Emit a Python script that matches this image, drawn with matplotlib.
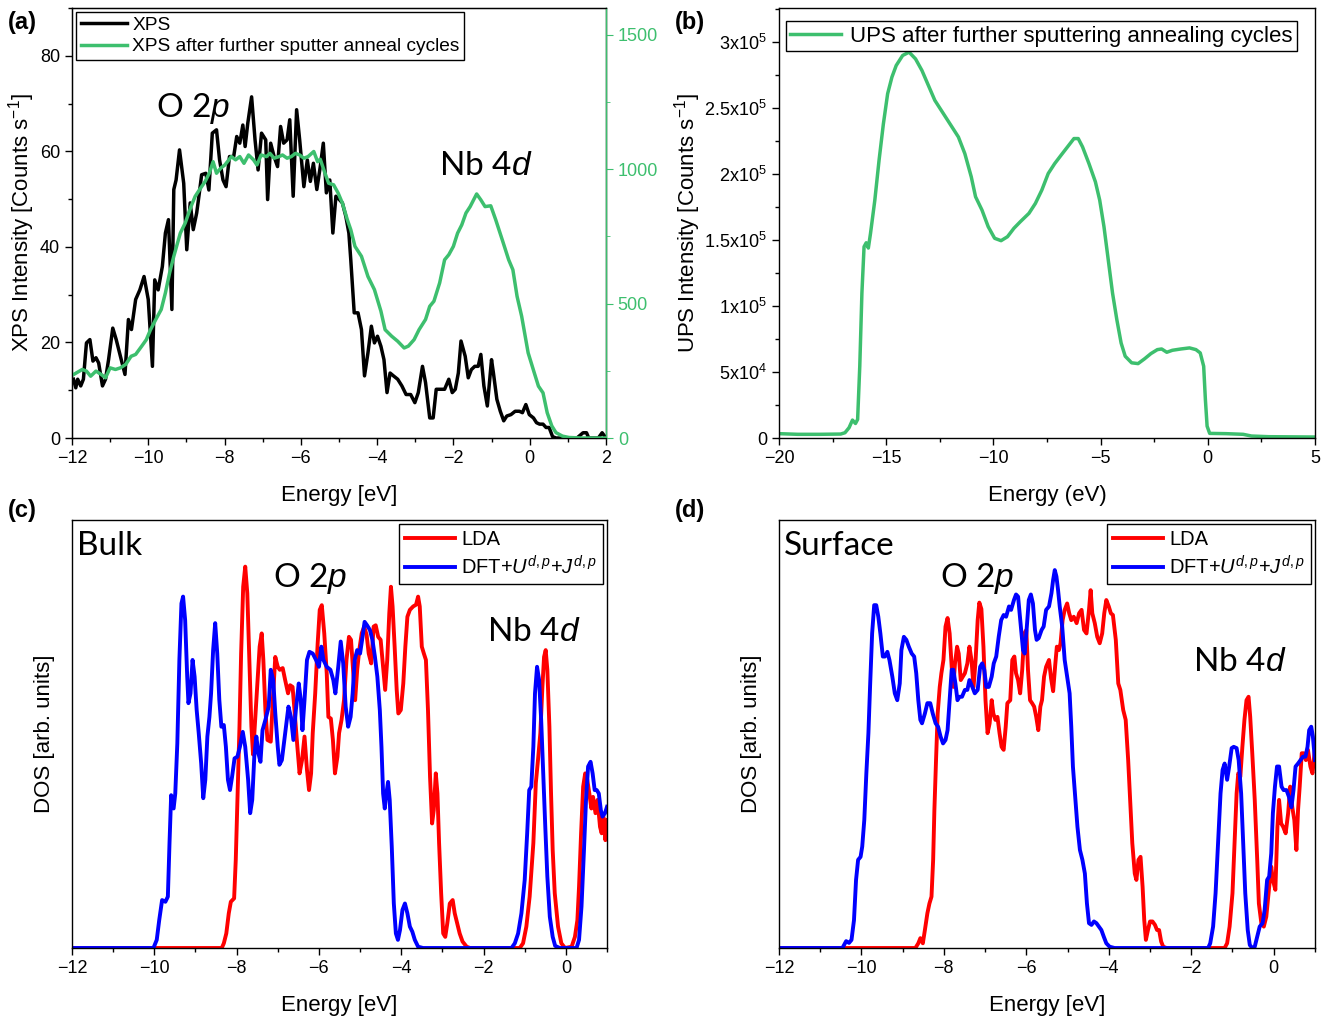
import matplotlib
matplotlib.use("Agg")
import matplotlib.pyplot as plt
from matplotlib.ticker import MultipleLocator

plt.rcParams['font.family'] = ['Liberation Sans', 'DejaVu Sans']
plt.rcParams['mathtext.fontset'] = 'custom'
plt.rcParams['mathtext.rm'] = 'Liberation Sans'
plt.rcParams['mathtext.it'] = 'Liberation Sans:italic'

GREEN = '#3dbf6e'

# ---- (a) XPS ----
xps_e = [-11.96, -11.9, -11.85, -11.77, -11.7, -11.62, -11.53, -11.45, -11.37, -11.3, -11.2, -11.12,
         -11.04, -10.93, -10.84, -10.73, -10.61, -10.52, -10.44, -10.33, -10.22, -10.11, -10.0, -9.89,
         -9.83, -9.74, -9.63, -9.55, -9.47, -9.38, -9.33, -9.27, -9.18, -9.07, -8.99, -8.9, -8.82, -8.73,
         -8.66, -8.6, -8.49, -8.41, -8.32, -8.21, -8.13, -8.04, -7.96, -7.87, -7.76, -7.68, -7.6, -7.52,
         -7.46, -7.39, -7.29, -7.2, -7.12, -7.03, -6.92, -6.87, -6.79, -6.7, -6.61, -6.53, -6.45, -6.36,
         -6.29, -6.2, -6.11, -6.03, -5.92, -5.83, -5.75, -5.67, -5.58, -5.49, -5.41, -5.33, -5.24, -5.16,
         -5.08, -4.99, -4.91, -4.82, -4.74, -4.69, -4.6, -4.5, -4.41, -4.33, -4.24, -4.15, -4.07, -3.99,
         -3.9, -3.82, -3.74, -3.66, -3.57, -3.46, -3.35, -3.24, -3.12, -3.01, -2.92, -2.81, -2.73, -2.62,
         -2.53, -2.45, -2.34, -2.23, -2.12, -2.03, -1.95, -1.87, -1.8, -1.69, -1.61, -1.53, -1.44, -1.35,
         -1.28, -1.2, -1.11, -1.0, -0.95, -0.86, -0.77, -0.68, -0.6, -0.49, -0.38, -0.27, -0.19, -0.1,
         -0.01, 0.1, 0.18, 0.26, 0.35, 0.43, 0.51, 0.6, 0.69, 0.9, 1.24, 1.4, 1.49, 1.55, 1.8, 1.9, 2.0]
xps_i = [12.3, 10.5, 12.3, 10.9, 12.3, 19.9, 20.6, 16.1, 16.8, 15.7, 10.9, 12.3,
         16.4, 23.0, 20.6, 17.1, 13.3, 24.8, 22.7, 29.0, 31.0, 33.8, 29.0, 15.0,
         33.1, 31.0, 35.9, 42.9, 45.7, 26.9, 52.0, 54.0, 60.3, 53.3, 39.4, 49.2, 43.6, 47.1,
         51.3, 55.1, 55.4, 51.9, 63.8, 64.5, 58.2, 54.0, 52.6, 58.9, 58.9, 63.1, 61.7, 65.5,
         61.0, 65.9, 71.4, 62.4, 56.1, 63.8, 62.4, 49.9, 61.7, 58.9, 56.8, 65.2, 61.7, 62.4,
         66.6, 50.6, 68.7, 62.4, 52.6, 58.2, 53.7, 57.5, 52.0, 56.8, 61.7, 51.3, 54.0, 42.9,
         50.6, 49.9, 49.2, 46.4, 42.9, 37.3, 26.2, 26.2, 22.7, 13.0, 17.8, 23.4, 19.9, 21.3,
         19.2, 16.4, 9.5, 13.6, 13.0, 12.3, 10.9, 9.1, 9.1, 7.4, 9.5, 15.0, 11.6, 4.2,
         4.2, 10.2, 10.2, 10.2, 12.3, 9.5, 10.2, 13.6, 20.3, 17.1, 12.6, 14.3, 15.0, 15.0,
         17.5, 10.9, 6.7, 16.4, 13.6, 8.1, 5.6, 3.6, 4.6, 4.9, 5.6, 5.6, 5.3, 7.0,
         4.9, 4.2, 3.2, 2.9, 2.9, 2.2, 2.2, 0.3, 0.0, 0.0, 0.0, 1.1, 1.1, 0.0, 0.0, 1.1, 0.0]

xps2_e = [-11.96, -11.73, -11.62, -11.51, -11.37, -11.23, -11.12, -11.0, -10.86, -10.73, -10.59, -10.45,
          -10.33, -10.17, -10.05, -9.94, -9.78, -9.66, -9.55, -9.44, -9.33, -9.16, -9.03, -8.88, -8.77,
          -8.66, -8.51, -8.4, -8.3, -8.21, -8.1, -7.99, -7.82, -7.71, -7.6, -7.49, -7.37, -7.24, -7.15,
          -7.04, -6.9, -6.81, -6.7, -6.57, -6.48, -6.36, -6.25, -6.14, -6.03, -5.92, -5.81, -5.66, -5.56,
          -5.49, -5.38, -5.27, -5.14, -5.02, -4.91, -4.78, -4.69, -4.58, -4.41, -4.24, -4.07, -3.9, -3.79,
          -3.62, -3.46, -3.29, -3.18, -3.03, -2.9, -2.73, -2.62, -2.51, -2.36, -2.23, -2.12, -2.0, -1.89,
          -1.78, -1.67, -1.56, -1.47, -1.39, -1.28, -1.17, -1.02, -0.89, -0.72, -0.55, -0.44, -0.33, -0.21,
          -0.04, 0.12, 0.23, 0.35, 0.46, 0.58, 0.69, 0.86, 1.03, 1.36, 2.0]
xps2_i = [236, 255, 249, 230, 249, 236, 224, 261, 255, 261, 274, 304,
          311, 342, 366, 403, 447, 478, 540, 614, 676, 762, 800, 861, 899,
          923, 954, 985, 1028, 985, 1004, 1016, 1047, 1035, 1047, 1022, 1053, 1035, 1016,
          1053, 1047, 1059, 1041, 1047, 1053, 1041, 1047, 1059, 1053, 1041, 1047, 1066, 1028,
          1037, 991, 948, 942, 911, 874, 812, 775, 713, 676, 601, 552, 472, 403,
          379, 360, 335, 342, 366, 403, 441, 490, 509, 577, 663, 682, 713, 762,
          793, 837, 861, 886, 908, 886, 861, 864, 812, 738, 663, 626, 527, 453,
          317, 243, 193, 168, 94, 45, 20, 7, 2, 0, 0]

# ---- (b) UPS ----
ups_e = [-20.0, -19.12, -18.12, -17.12, -16.92, -16.73, -16.57, -16.43, -16.33, -16.23, -16.13, -16.03,
         -15.93, -15.83, -15.73, -15.53, -15.33, -15.13, -14.93, -14.73, -14.53, -14.23, -13.93, -13.63,
         -13.33, -13.03, -12.73, -12.33, -11.93, -11.63, -11.33, -11.03, -10.83, -10.53, -10.24, -9.94,
         -9.64, -9.34, -9.04, -8.74, -8.34, -8.04, -7.74, -7.44, -7.14, -6.84, -6.54, -6.24, -6.04,
         -5.84, -5.54, -5.24, -5.04, -4.84, -4.64, -4.44, -4.24, -4.04, -3.85, -3.55, -3.25, -2.95,
         -2.65, -2.35, -2.15, -1.91, -1.65, -1.25, -0.85, -0.55, -0.35, -0.19, -0.11, -0.03, 0.09,
         0.85, 1.65, 2.04, 2.84, 5.0]
ups_i = [3300, 2800, 2800, 3000, 4000, 7800, 13600, 11000, 14100, 54400, 110000, 145000,
         148000, 144000, 155000, 180000, 210600, 238000, 261000, 273600, 282400, 290000, 292500, 287400,
         278600, 267300, 256000, 245900, 235800, 228200, 215600, 198000, 182900, 172800, 160200, 151400,
         149600, 152600, 159000, 164000, 170300, 177800, 187900, 200500, 208000, 214400, 220700, 227000, 227000,
         220700, 208000, 194200, 180400, 160200, 135000, 109800, 89700, 72000, 62000, 57000, 56400, 60000,
         64000, 67000, 67500, 65000, 66500, 67500, 68300, 67000, 64500, 54400, 29200, 9000, 3500,
         3300, 2800, 1500, 1000, 750]
ups_ticks = [0, 50000, 100000, 150000, 200000, 250000, 300000]
ups_ticklabels = ['0', r'$5\mathrm{x}10^{4}$', r'$1\mathrm{x}10^{5}$', r'$1.5\mathrm{x}10^{5}$',
                  r'$2\mathrm{x}10^{5}$', r'$2.5\mathrm{x}10^{5}$', r'$3\mathrm{x}10^{5}$']

# ---- (c) Bulk DOS ----
bulk_blue_e = [-12.0, -10.02, -9.94, -9.88, -9.81, -9.73, -9.67, -9.63, -9.59, -9.53, -9.49, -9.44, -9.39,
               -9.34, -9.3, -9.25, -9.2, -9.17, -9.12, -9.07, -9.02, -8.97, -8.92, -8.86, -8.81, -8.76,
               -8.71, -8.66, -8.62, -8.57, -8.52, -8.47, -8.42, -8.37, -8.31, -8.26, -8.21, -8.16, -8.11,
               -8.05, -7.98, -7.92, -7.85, -7.79, -7.72, -7.67, -7.62, -7.57, -7.52, -7.47, -7.42, -7.37,
               -7.3, -7.22, -7.17, -7.11, -7.06, -7.0, -6.96, -6.9, -6.82, -6.74, -6.68, -6.62, -6.56,
               -6.49, -6.44, -6.4, -6.35, -6.29, -6.23, -6.15, -6.07, -6.0, -5.94, -5.89, -5.81, -5.72,
               -5.65, -5.6, -5.53, -5.47, -5.41, -5.35, -5.29, -5.23, -5.18, -5.13, -5.07, -5.0, -4.94,
               -4.89, -4.83, -4.76, -4.7, -4.64, -4.58, -4.52, -4.48, -4.44, -4.4, -4.36, -4.32, -4.28,
               -4.23, -4.18, -4.13, -4.08, -4.03, -3.97, -3.91, -3.85, -3.79, -3.73, -3.67, -3.59, -3.47,
               -1.32, -1.24, -1.16, -1.08, -1.0, -0.94, -0.89, -0.84, -0.79, -0.75, -0.7, -0.65, -0.6,
               -0.55, -0.5, -0.45, -0.39, -0.32, -0.26, -0.15, 0.26, 0.32, 0.38, 0.44, 0.49, 0.54, 0.6,
               0.65, 0.7, 0.75, 0.8, 0.85, 0.89, 0.95, 1.0]
bulk_blue = [0, 0, 1.9, 6.5, 11.2, 10.8, 12.0, 24.5, 35.7, 32.6, 36.1, 47.8, 67.3,
             80.5, 82.1, 76.6, 63.4, 57.2, 59.5, 67.3, 63.4, 55.6, 50.2, 43.1, 35.0, 39.3,
             49.4, 54.0, 59.5, 69.6, 75.9, 68.8, 58.0, 51.7, 52.1, 47.0, 39.3, 36.9, 40.0,
             44.3, 44.7, 47.0, 50.5, 47.0, 39.3, 31.5, 34.6, 44.7, 49.4, 45.5, 43.5, 50.9,
             53.3, 56.4, 65.0, 62.6, 54.8, 47.0, 42.8, 43.9, 50.2, 56.4, 54.0, 48.6, 55.6,
             61.8, 57.9, 50.9, 57.9, 67.3, 69.2, 68.8, 67.3, 65.7, 70.4, 67.3, 65.7, 65.0,
             62.6, 59.5, 65.7, 71.6, 66.5, 56.4, 51.7, 54.0, 59.5, 67.3, 69.6, 68.8, 72.7,
             76.2, 75.4, 74.3, 72.0, 68.1, 63.4, 55.6, 47.0, 36.1, 32.6, 36.1, 38.8, 34.6,
             23.7, 10.4, 3.4, 1.9, 4.2, 8.9, 10.4, 8.1, 5.0, 3.8, 1.9, 0.3, 0,
             0, 1.1, 3.4, 8.1, 15.9, 26.8, 36.9, 37.7, 47.0, 59.5, 65.7, 62.6, 53.3,
             40.8, 28.3, 16.7, 7.3, 2.6, 0.5, 0, 0, 1.9, 9.7, 22.9, 34.6, 42.4, 43.5,
             40.8, 36.9, 36.9, 36.1, 32.2, 30.7, 31.5, 33.0]
bulk_red_e = [-12.0, -8.36, -8.31, -8.25, -8.19, -8.14, -8.06, -8.02, -7.98, -7.93, -7.89, -7.84, -7.79,
              -7.74, -7.69, -7.64, -7.6, -7.55, -7.49, -7.44, -7.39, -7.35, -7.3, -7.25, -7.17, -7.12,
              -7.06, -7.0, -6.95, -6.88, -6.82, -6.75, -6.7, -6.64, -6.6, -6.53, -6.47, -6.41, -6.35,
              -6.29, -6.24, -6.19, -6.15, -6.09, -6.03, -5.98, -5.93, -5.87, -5.81, -5.77, -5.71, -5.66,
              -5.61, -5.55, -5.51, -5.45, -5.39, -5.33, -5.27, -5.22, -5.17, -5.12, -5.07, -5.02, -4.96,
              -4.9, -4.84, -4.79, -4.73, -4.67, -4.62, -4.56, -4.5, -4.44, -4.39, -4.34, -4.29, -4.25,
              -4.21, -4.16, -4.11, -4.07, -4.01, -3.95, -3.9, -3.85, -3.79, -3.71, -3.64, -3.59, -3.55,
              -3.5, -3.45, -3.4, -3.35, -3.3, -3.25, -3.21, -3.16, -3.12, -3.08, -3.03, -2.98, -2.93,
              -2.88, -2.82, -2.75, -2.7, -2.64, -2.58, -2.51, -2.41, -2.33, -1.12, -1.04, -0.96, -0.88,
              -0.79, -0.73, -0.67, -0.62, -0.57, -0.53, -0.49, -0.45, -0.4, -0.36, -0.32, -0.27, -0.19,
              -0.11, -0.02, 0.14, 0.22, 0.28, 0.32, 0.37, 0.42, 0.47, 0.52, 0.57, 0.62, 0.66, 0.72,
              0.77, 0.83, 0.87, 0.91, 0.96, 1.01]
bulk_red = [0, 0, 1.1, 3.4, 8.1, 10.8, 11.6, 20.6, 34.6, 51.7, 68.8, 84.4, 89.1,
            82.9, 67.3, 51.7, 45.2, 53.3, 62.6, 70.4, 73.5, 67.3, 55.6, 48.6, 48.2, 57.9,
            68.0, 65.7, 65.0, 65.4, 62.6, 59.5, 61.4, 61.0, 56.4, 47.8, 40.8, 43.9, 49.4,
            41.6, 36.9, 40.8, 50.2, 59.5, 71.2, 79.0, 80.1, 73.5, 64.2, 54.0, 53.6, 48.6,
            40.8, 44.7, 50.2, 53.3, 57.9, 67.3, 72.7, 72.0, 65.0, 57.9, 65.0, 69.6, 73.5,
            75.1, 73.1, 68.8, 66.5, 75.1, 75.4, 72.7, 72.0, 65.7, 60.3, 67.3, 78.2, 84.4,
            79.8, 70.4, 60.3, 54.8, 55.6, 61.8, 70.4, 77.4, 79.0, 79.8, 80.2, 82.1, 79.8,
            70.4, 68.8, 67.3, 55.6, 40.0, 29.1, 32.2, 40.8, 36.1, 24.5, 12.8, 3.4, 2.6,
            5.8, 10.4, 11.2, 8.1, 5.8, 3.4, 1.5, 0.3, 0, 0, 1.1, 5.0, 12.0,
            24.5, 38.5, 44.7, 50.2, 61.0, 68.0, 69.6, 65.0, 51.7, 36.1, 22.9, 12.8, 5.0,
            1.1, 0, 0.3, 2.6, 6.5, 14.3, 26.8, 37.7, 40.8, 39.3, 36.1, 32.6, 35.3, 31.5,
            34.6, 28.3, 26.8, 30.7, 25.2, 29.9]

# ---- (d) Surface DOS ----
surf_blue_e = [-12.0, -10.46, -10.42, -10.37, -10.3, -10.24, -10.18, -10.13, -10.08, -10.02, -9.98, -9.93,
               -9.88, -9.83, -9.79, -9.74, -9.69, -9.64, -9.59, -9.54, -9.48, -9.43, -9.37, -9.32, -9.25,
               -9.19, -9.13, -9.07, -9.03, -8.97, -8.91, -8.85, -8.78, -8.72, -8.67, -8.62, -8.57, -8.53,
               -8.46, -8.4, -8.33, -8.27, -8.2, -8.14, -8.08, -8.02, -7.96, -7.91, -7.86, -7.81, -7.77,
               -7.72, -7.67, -7.62, -7.56, -7.49, -7.43, -7.38, -7.31, -7.25, -7.18, -7.12, -7.07, -7.02,
               -6.97, -6.91, -6.84, -6.79, -6.73, -6.67, -6.61, -6.55, -6.49, -6.42, -6.37, -6.3, -6.25,
               -6.2, -6.14, -6.08, -6.04, -5.99, -5.94, -5.89, -5.84, -5.79, -5.75, -5.7, -5.63, -5.58,
               -5.52, -5.45, -5.39, -5.35, -5.31, -5.27, -5.23, -5.19, -5.13, -5.07, -5.01, -4.95, -4.91,
               -4.87, -4.81, -4.76, -4.7, -4.64, -4.58, -4.53, -4.48, -4.42, -4.36, -4.3, -4.24, -4.18,
               -4.12, -4.06, -3.98, -3.86, -1.59, -1.54, -1.47, -1.41, -1.35, -1.29, -1.24, -1.19, -1.13,
               -1.08, -1.02, -0.97, -0.9, -0.85, -0.79, -0.74, -0.69, -0.63, -0.58, -0.52, -0.46, -0.4,
               -0.34, -0.27, -0.22, -0.16, -0.11, -0.06, -0.02, 0.03, 0.08, 0.13, 0.19, 0.24, 0.31, 0.37,
               0.43, 0.48, 0.53, 0.59, 0.65, 0.71, 0.77, 0.82, 0.86, 0.91, 0.95, 1.0]
surf_blue = [0, 0, 0.7, 1.6, 1.2, 1.9, 6.5, 15.9, 20.6, 21.3, 23.7, 29.9,
             40.8, 50.2, 61.0, 73.5, 80.1, 80.1, 77.4, 73.5, 68.1, 68.1, 69.2, 67.3, 63.4,
             59.5, 57.9, 61.8, 69.6, 72.7, 72.0, 70.4, 68.8, 68.1, 64.2, 57.9, 53.3, 52.5,
             54.8, 57.2, 57.2, 54.8, 52.5, 51.7, 49.4, 47.8, 48.6, 50.9, 57.9, 65.0, 65.0,
             61.8, 57.9, 58.7, 58.7, 60.3, 60.3, 62.6, 61.0, 59.5, 60.3, 65.7, 66.5, 65.0,
             61.0, 61.0, 63.4, 66.5, 68.1, 72.7, 76.6, 77.8, 77.4, 79.8, 79.0, 81.3, 82.6,
             82.1, 75.9, 69.6, 68.8, 74.8, 81.3, 82.6, 80.5, 74.3, 72.0, 72.4, 74.3, 75.1,
             79.0, 79.8, 82.9, 86.0, 88.3, 86.8, 83.6, 79.8, 75.1, 67.3, 63.4, 59.5, 51.7,
             42.4, 34.6, 28.3, 22.9, 20.6, 17.4, 10.4, 5.8, 5.4, 6.2, 5.8, 5.0, 4.2,
             2.6, 1.1, 0.3, 0, 0, 1.1, 5.0, 12.8, 24.5, 36.1, 41.6, 43.1, 39.3,
             42.4, 46.7, 47.0, 46.7, 43.9, 36.1, 24.5, 12.8, 4.2, 0.7, 0, 0.3, 2.6,
             5.0, 5.8, 8.9, 15.9, 16.7, 22.1, 31.5, 37.7, 42.4, 42.4, 37.7, 36.9, 36.9, 35.3,
             32.9, 36.9, 42.4, 43.1, 43.9, 44.7, 44.7, 47.0, 50.9, 51.7, 49.4, 43.9]
surf_red_e = [-12.0, -8.69, -8.62, -8.57, -8.51, -8.46, -8.4, -8.35, -8.3, -8.26, -8.23, -8.19, -8.15,
              -8.1, -8.06, -8.01, -7.96, -7.91, -7.86, -7.81, -7.77, -7.73, -7.68, -7.64, -7.59, -7.54,
              -7.49, -7.43, -7.38, -7.33, -7.28, -7.23, -7.18, -7.14, -7.09, -7.04, -6.99, -6.94, -6.89,
              -6.84, -6.8, -6.75, -6.7, -6.65, -6.6, -6.55, -6.5, -6.46, -6.39, -6.34, -6.29, -6.25,
              -6.2, -6.15, -6.1, -6.05, -6.0, -5.96, -5.91, -5.86, -5.81, -5.76, -5.71, -5.66, -5.62,
              -5.57, -5.52, -5.45, -5.4, -5.35, -5.3, -5.26, -5.21, -5.17, -5.12, -5.07, -5.01, -4.96,
              -4.91, -4.85, -4.78, -4.72, -4.66, -4.6, -4.54, -4.48, -4.44, -4.4, -4.34, -4.28, -4.22,
              -4.16, -4.11, -4.06, -4.0, -3.95, -3.9, -3.83, -3.77, -3.72, -3.65, -3.59, -3.53, -3.47,
              -3.43, -3.37, -3.33, -3.28, -3.23, -3.18, -3.14, -3.1, -3.05, -3.0, -2.94, -2.88, -2.83,
              -2.78, -2.73, -2.68, -2.6, -1.19, -1.13, -1.07, -1.0, -0.95, -0.9, -0.86, -0.81, -0.76,
              -0.71, -0.66, -0.61, -0.57, -0.52, -0.46, -0.4, -0.36, -0.3, -0.24, -0.18, -0.11, -0.06,
              -0.02, 0.04, 0.09, 0.13, 0.18, 0.23, 0.29, 0.35, 0.4, 0.45, 0.5, 0.55, 0.59, 0.63, 0.68,
              0.73, 0.78, 0.83, 0.89, 0.94, 0.99]
surf_red = [0, 0, 1.1, 2.3, 1.1, 4.2, 8.1, 10.4, 12.0, 20.6, 32.2, 43.9, 54.8,
            61.0, 64.2, 67.3, 75.1, 77.1, 73.5, 65.7, 61.0, 66.5, 70.4, 68.8, 62.6, 63.4,
            64.2, 66.5, 70.4, 67.3, 61.0, 67.3, 76.6, 80.7, 79.2, 70.4, 57.9, 50.2, 52.5,
            57.9, 54.8, 53.3, 54.0, 50.2, 47.0, 46.3, 51.7, 57.2, 57.9, 67.3, 68.1, 64.2,
            62.6, 59.5, 65.0, 73.5, 74.3, 65.0, 57.9, 57.2, 56.4, 54.0, 50.9, 56.4, 57.9,
            63.4, 65.7, 67.3, 63.0, 60.0, 66.0, 70.4, 69.6, 71.2, 76.6, 79.0, 80.5, 78.2,
            76.6, 77.4, 75.9, 78.2, 79.0, 74.3, 73.5, 79.0, 83.6, 78.2, 75.9, 72.7, 71.2,
            73.5, 78.2, 81.3, 79.8, 78.2, 77.8, 72.0, 61.8, 60.3, 55.6, 53.3, 43.9, 32.2,
            24.5, 17.4, 15.9, 20.6, 21.3, 14.3, 6.5, 1.9, 4.2, 6.2, 6.2, 5.4, 4.2,
            4.2, 1.5, 0.3, 0, 0, 1.1, 5.0, 12.8, 24.5, 36.1, 40.8, 40.0, 47.0,
            53.3, 57.9, 58.7, 54.0, 45.5, 34.6, 20.6, 10.4, 5.8, 5.0, 7.3, 14.3, 19.0,
            15.9, 13.6, 28.3, 34.6, 29.1, 28.3, 26.8, 31.5, 37.7, 32.9, 29.9, 22.9, 32.2, 37.7, 45.5,
            45.5, 43.9, 46.3, 42.4, 40.8, 45.5]

fig = plt.figure(figsize=(13.4, 10.21), dpi=100)
ax_a = fig.add_axes([0.0537, 0.571, 0.3985, 0.4212])
ax_b = fig.add_axes([0.5813, 0.571, 0.4, 0.4212])
ax_c = fig.add_axes([0.0537, 0.0715, 0.3993, 0.4192])
ax_d = fig.add_axes([0.5813, 0.0715, 0.4, 0.4192])

TICK_FS = 13
LABEL_FS = 16

for ax in (ax_a, ax_b, ax_c, ax_d):
    ax.tick_params(which='both', direction='out', labelsize=TICK_FS, width=1)
    ax.tick_params(which='major', length=5)
    ax.tick_params(which='minor', length=3)
    for s in ax.spines.values():
        s.set_linewidth(1)

legend_kw = dict(frameon=True, fancybox=False, edgecolor='black', framealpha=1)
ann_font = ['Lato', 'DejaVu Sans']
ANN_FS = 24

# (a)
la, = ax_a.plot(xps_e, xps_i, color='black', lw=2.5, label='XPS')
ax_a2 = ax_a.twinx()
lb, = ax_a2.plot(xps2_e, xps2_i, color=GREEN, lw=2.5, label='XPS after further sputter anneal cycles')
ax_a.set_xlim(-12, 2)
ax_a.set_ylim(0, 90)
ax_a2.set_ylim(0, 1600)
ax_a.xaxis.set_major_locator(MultipleLocator(2))
ax_a.xaxis.set_minor_locator(MultipleLocator(1))
ax_a.yaxis.set_major_locator(MultipleLocator(20))
ax_a.yaxis.set_minor_locator(MultipleLocator(10))
ax_a2.yaxis.set_major_locator(MultipleLocator(500))
ax_a2.yaxis.set_minor_locator(MultipleLocator(250))
ax_a2.tick_params(which='both', direction='out', labelsize=TICK_FS, colors=GREEN)
ax_a2.tick_params(which='major', length=5)
ax_a2.tick_params(which='minor', length=3)
ax_a2.spines['right'].set_color(GREEN)
ax_a2.spines['right'].set_linewidth(1)
ax_a.set_xlabel('Energy [eV]', fontsize=LABEL_FS, labelpad=13)
ax_a.set_ylabel(r'XPS Intensity [Counts s$^{-1}$]', fontsize=LABEL_FS, labelpad=2)
ax_a2.legend(handles=[la, lb], loc='upper left', fontsize=13.8, borderaxespad=0.2,
             handlelength=2.4, borderpad=0.25, labelspacing=0.2, handletextpad=0.3, **legend_kw)
ax_a.text(-8.83, 69, r'O 2$\it{p}$', fontsize=ANN_FS, ha='center', va='center', family=ann_font)
ax_a.text(-1.15, 57, r'Nb 4$\it{d}$', fontsize=ANN_FS, ha='center', va='center', family=ann_font)

# (b)
ax_b.plot(ups_e, ups_i, color=GREEN, lw=2.5, label='UPS after further sputtering annealing cycles')
ax_b.set_xlim(-20, 5)
ax_b.set_ylim(0, 3.26e5)
ax_b.xaxis.set_major_locator(MultipleLocator(5))
ax_b.xaxis.set_minor_locator(MultipleLocator(2.5))
ax_b.set_yticks(ups_ticks)
ax_b.set_yticklabels(ups_ticklabels)
ax_b.yaxis.set_minor_locator(MultipleLocator(25000))
ax_b.set_xlabel('Energy (eV)', fontsize=LABEL_FS, labelpad=13)
ax_b.set_ylabel(r'UPS Intensity [Counts s$^{-1}$]', fontsize=LABEL_FS, labelpad=1)
ax_b.legend(loc='upper center', bbox_to_anchor=(0.49, 0.995), fontsize=16, handlelength=2.3,
            borderpad=0.2, handletextpad=0.4, **legend_kw)

# (c) and (d)
for ax, title, be, bv, re_, rv, o_pos, nb_pos in (
        (ax_c, 'Bulk', bulk_blue_e, bulk_blue, bulk_red_e, bulk_red, (-6.22, 86.4), (-0.78, 73.8)),
        (ax_d, 'Surface', surf_blue_e, surf_blue, surf_red_e, surf_red, (-7.2, 86.4), (-0.82, 66.8))):
    ax.plot(re_, rv, color='#ff0000', lw=2.8, label='LDA')
    ax.plot(be, bv, color='#0000ff', lw=2.8, label=r'DFT+$\mathit{U}^{d,p}$+$\mathit{J}^{d,p}$')
    ax.set_xlim(-12, 1)
    ax.set_ylim(0, 100)
    ax.xaxis.set_major_locator(MultipleLocator(2))
    ax.xaxis.set_minor_locator(MultipleLocator(1))
    ax.set_yticks([])
    ax.set_xlabel('Energy [eV]', fontsize=LABEL_FS, labelpad=13)
    ax.set_ylabel('DOS [arb. units]', fontsize=LABEL_FS, labelpad=12)
    ax.legend(loc='upper right', fontsize=14.5, borderaxespad=0.2, handlelength=2.5,
              borderpad=0.3, labelspacing=0.3, handletextpad=0.3, **legend_kw)
    ax.text(0.01, 0.975, title, transform=ax.transAxes, fontsize=ANN_FS, ha='left', va='top', family=ann_font)
    ax.text(o_pos[0], o_pos[1], r'O 2$\it{p}$', fontsize=ANN_FS, ha='center', va='center', family=ann_font)
    ax.text(nb_pos[0], nb_pos[1], r'Nb 4$\it{d}$', fontsize=ANN_FS, ha='center', va='center', family=ann_font)

for x, y, s in ((0.006, 0.978, '(a)'), (0.504, 0.978, '(b)'), (0.006, 0.5, '(c)'), (0.504, 0.5, '(d)')):
    fig.text(x, y, s, fontsize=17, fontweight='bold', ha='left', va='center')

fig.savefig('out.png', dpi=100)
